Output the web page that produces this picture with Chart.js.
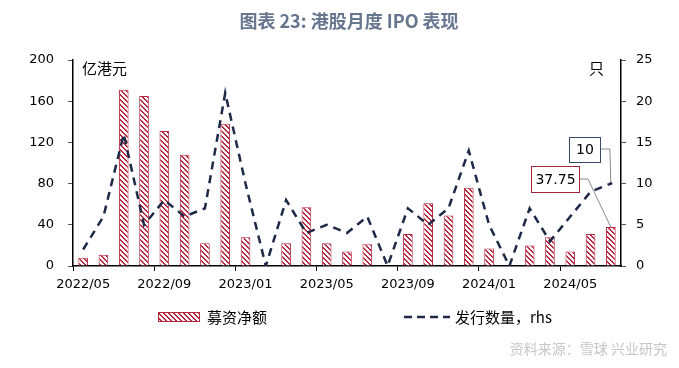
<!DOCTYPE html>
<html>
<head>
<meta charset="utf-8">
<script src="https://cdn.jsdelivr.net/npm/chart.js@4.4.1/dist/chart.umd.min.js"></script>
<style>
  html, body { margin: 0; padding: 0; background: #fff; }
  #wrap { width: 679px; height: 368px; position: relative; }
</style>
</head>
<body>
<div id="wrap"><canvas id="grafico" width="679" height="368"></canvas></div>
<script>
// meses (eixo x)
const meses = ['2022/05','2022/06','2022/07','2022/08','2022/09','2022/10','2022/11','2022/12',
               '2023/01','2023/02','2023/03','2023/04','2023/05','2023/06','2023/07','2023/08',
               '2023/09','2023/10','2023/11','2023/12','2024/01','2024/02','2024/03','2024/04',
               '2024/05','2024/06','2024/07'];
// 募资净额 (亿港元)
const mujiJinge = [8, 11, 171, 165, 131, 108, 22, 138, 28, 0, 22, 57, 22, 14, 21, 0,
                   31, 61, 49, 76, 17, 0, 20, 28, 14, 31, 37.75];
// 发行数量 (只, rhs)
const faxingShuliang = [2, 6, 16, 5, 8, 6, 7, 21, 10, 0, 8, 4, 5, 4, 6, 0,
                        7, 5, 7, 14, 5, 0, 7, 3, 6, 9, 10];
const ticksEsq = [0, 40, 80, 120, 160, 200];
const ticksDir = [0, 5, 10, 15, 20, 25];

const VERMELHO = '#b8283f';
const AZUL = '#1c2a48';
const FONTE_NUM = 'DejaVu Sans';
const FONTE_CJK = '"Noto Sans CJK SC"';

// padrão listrado das barras (pixel a pixel, direção "\")
function criarHachura() {
    const t = 5;
    const c = document.createElement('canvas');
    c.width = t; c.height = t;
    const g = c.getContext('2d');
    g.fillStyle = '#fff';
    g.fillRect(0, 0, t, t);
    g.fillStyle = VERMELHO;
    for (let i = 0; i < t; i++) {
        g.fillRect(i, i, 1, 1);
        g.fillRect((i + 1) % t, i, 1, 1);
    }
    return g.createPattern(c, 'repeat');
}
const hachura = criarHachura();

// textos, legenda e rótulos desenhados à mão
const extras = {
    id: 'extras',
    afterDraw(chart) {
        const ctx = chart.ctx;
        const area = chart.chartArea;
        const x = chart.scales.x, y = chart.scales.y, y1 = chart.scales.y1;
        ctx.save();

        // título
        ctx.fillStyle = '#66768f';
        ctx.font = 'bold 18px ' + FONTE_CJK;
        ctx.textAlign = 'center';
        ctx.textBaseline = 'middle';
        ctx.fillText('图表 23: 港股月度 IPO 表现', 349, 21);

        // unidades
        ctx.fillStyle = '#000';
        ctx.font = '15px ' + FONTE_CJK;
        ctx.textAlign = 'left';
        ctx.fillText('亿港元', area.left + 9, 68);
        ctx.textAlign = 'right';
        ctx.fillText('只', area.right - 17, 68);

        // rótulo do último ponto (linha e barra)
        const n = meses.length - 1;
        const px = x.getPixelForValue(n);
        const pyLinha = y1.getPixelForValue(faxingShuliang[n]);
        const pyBarra = y.getPixelForValue(mujiJinge[n]);
        ctx.lineWidth = 1;
        ctx.strokeStyle = '#888';
        ctx.beginPath();
        ctx.moveTo(600, 149); ctx.lineTo(px - 1, 149); ctx.lineTo(px, pyLinha);
        ctx.moveTo(579, 179); ctx.lineTo(588, 179); ctx.lineTo(px, pyBarra);
        ctx.stroke();
        ctx.fillStyle = AZUL;
        ctx.beginPath(); ctx.arc(px, pyLinha, 1.5, 0, Math.PI * 2); ctx.fill();

        ctx.fillStyle = '#fff';
        ctx.fillRect(569.5, 137.5, 31, 25);
        ctx.strokeStyle = '#3a4a66';
        ctx.strokeRect(569.5, 137.5, 31, 25);
        ctx.fillRect(531.5, 166.5, 48, 26);
        ctx.strokeStyle = '#a3263b';
        ctx.strokeRect(531.5, 166.5, 48, 26);

        ctx.fillStyle = '#000';
        ctx.font = '14px ' + FONTE_NUM;
        ctx.textAlign = 'center';
        ctx.fillText(String(faxingShuliang[n]), 585, 150.5);
        ctx.fillText(String(mujiJinge[n]), 555.5, 180);

        // legenda
        ctx.fillStyle = hachura;
        ctx.fillRect(158, 312, 42, 10);
        ctx.strokeStyle = VERMELHO;
        ctx.strokeRect(158.5, 312.5, 41, 9);
        ctx.fillStyle = '#000';
        ctx.font = '15px ' + FONTE_CJK;
        ctx.textAlign = 'left';
        ctx.fillText('募资净额', 207, 317);

        ctx.strokeStyle = AZUL;
        ctx.lineWidth = 2.5;
        ctx.setLineDash([8, 5]);
        ctx.beginPath(); ctx.moveTo(404, 317); ctx.lineTo(450, 317); ctx.stroke();
        ctx.setLineDash([]);
        ctx.fillText('发行数量，rhs', 455, 317);

        // fonte
        ctx.fillStyle = '#c6c6c6';
        ctx.font = '14px ' + FONTE_CJK;
        ctx.textAlign = 'right';
        ctx.fillText('资料来源：雪球 兴业研究', 667, 349);

        ctx.restore();
    }
};

const ctxGrafico = document.getElementById('grafico').getContext('2d');
new Chart(ctxGrafico, {
    type: 'bar',
    data: {
        labels: meses,
        datasets: [
            {
                type: 'line',
                label: '发行数量，rhs',
                data: faxingShuliang,
                yAxisID: 'y1',
                borderColor: AZUL,
                borderWidth: 2.5,
                borderDash: [8, 6],
                pointRadius: 0,
                tension: 0,
                fill: false,
                order: 0
            },
            {
                label: '募资净额',
                data: mujiJinge,
                yAxisID: 'y',
                backgroundColor: hachura,
                borderColor: VERMELHO,
                borderWidth: 1,
                barPercentage: 0.95,
                categoryPercentage: 0.5,
                order: 1
            }
        ]
    },
    options: {
        responsive: false,
        animation: false,
        devicePixelRatio: 1,
        layout: { padding: { top: 60, left: 0, right: 0, bottom: 0 } },
        plugins: { legend: { display: false }, title: { display: false }, tooltip: { enabled: false } },
        scales: {
            x: {
                offset: true,
                afterFit(scale) { scale.height = 102; },
                grid: {
                    offset: true,
                    drawOnChartArea: false,
                    tickLength: 5,
                    color: c => (c.index % 4 === 0 ? '#000' : 'rgba(0,0,0,0)')
                },
                border: { color: '#000', width: 1.5 },
                ticks: {
                    autoSkip: false,
                    maxRotation: 0,
                    padding: 6,
                    color: '#000',
                    font: { family: FONTE_NUM, size: 13 },
                    callback: (v, i) => (i % 4 === 0 ? meses[i] : '')
                }
            },
            y: {
                position: 'left',
                min: 0, max: 200,
                afterFit(scale) { scale.width = 73; },
                afterBuildTicks(scale) { scale.ticks = ticksEsq.map(v => ({ value: v })); },
                grid: { drawOnChartArea: false, tickLength: 5, color: '#555' },
                border: { color: '#000', width: 1.5 },
                ticks: { padding: 14, color: '#000', font: { family: FONTE_NUM, size: 13 } }
            },
            y1: {
                position: 'right',
                min: 0, max: 25,
                afterFit(scale) { scale.width = 58; },
                afterBuildTicks(scale) { scale.ticks = ticksDir.map(v => ({ value: v })); },
                grid: { drawOnChartArea: false, tickLength: 5, color: '#555' },
                border: { color: '#000', width: 1.5 },
                ticks: { padding: 10, color: '#000', font: { family: FONTE_NUM, size: 13 } }
            }
        }
    },
    plugins: [extras]
});
</script>
</body>
</html>
